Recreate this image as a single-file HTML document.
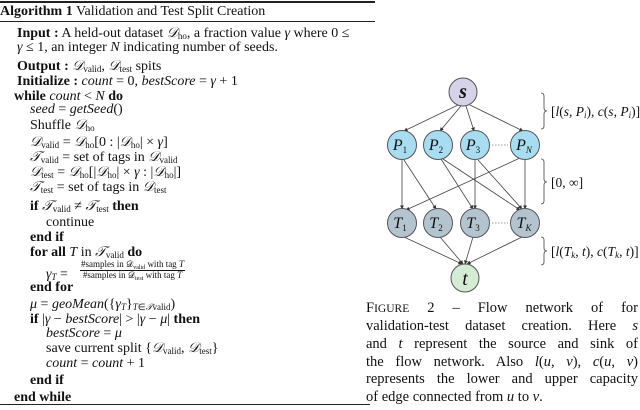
<!DOCTYPE html>
<html><head><meta charset="utf-8"><style>
body{margin:0;width:640px;height:410px;background:#fff;position:relative;overflow:hidden;font-family:"Liberation Serif",serif;font-size:14px;color:#111}
.l{position:absolute;white-space:nowrap;line-height:14px}
b{font-weight:bold}
i{font-style:italic}
sub{font-size:9px;vertical-align:-2px;line-height:0}
.hr{position:absolute;left:0;background:#222}
.c{position:absolute;left:366px;width:272px;font-size:14.5px;line-height:16px;white-space:nowrap;text-align:justify;text-align-last:justify}
</style></head><body>
<div class="hr" style="top:1px;width:375px;height:1.5px"></div>
<div class="l" style="left:0;top:5px;font-size:14px"><b>Algorithm 1</b> Validation and Test Split Creation</div>
<div class="hr" style="top:21px;width:375px;height:1px"></div>
<div class="l" style="left:17px;top:27px"><b>Input :</b> A held-out dataset <i>𝒟</i><sub>ho</sub>, a fraction value <i>γ</i> where 0 ≤</div>
<div class="l" style="left:17px;top:41px"><i>γ</i> ≤ 1, an integer <i>N</i> indicating number of seeds.</div>
<div class="l" style="left:17px;top:60px"><b>Output :</b> <i>𝒟</i><sub>valid</sub>, <i>𝒟</i><sub>test</sub> spits</div>
<div class="l" style="left:17px;top:75px"><b>Initialize :</b> <i>count</i> = 0, <i>bestScore</i> = <i>γ</i> + 1</div>
<div class="l" style="left:14px;top:90px"><b>while</b> <i>count</i> &lt; <i>N</i> <b>do</b></div>
<div class="l" style="left:30px;top:103px"><i>seed</i> = <i>getSeed</i>()</div>
<div class="l" style="left:30px;top:119px">Shuffle <i>𝒟</i><sub>ho</sub></div>
<div class="l" style="left:30px;top:136px"><i>𝒟</i><sub>valid</sub> = <i>𝒟</i><sub>ho</sub>[0 : |<i>𝒟</i><sub>ho</sub>| × <i>γ</i>]</div>
<div class="l" style="left:30px;top:151px"><i>𝒯</i><sub>valid</sub> = set of tags in <i>𝒟</i><sub>valid</sub></div>
<div class="l" style="left:30px;top:166px"><i>𝒟</i><sub>test</sub> = <i>𝒟</i><sub>ho</sub>[|<i>𝒟</i><sub>ho</sub>| × <i>γ</i> : |<i>𝒟</i><sub>ho</sub>|]</div>
<div class="l" style="left:30px;top:181px"><i>𝒯</i><sub>test</sub> = set of tags in <i>𝒟</i><sub>test</sub></div>
<div class="l" style="left:30px;top:200px"><b>if</b> <i>𝒯</i><sub>valid</sub> ≠ <i>𝒯</i><sub>test</sub> <b>then</b></div>
<div class="l" style="left:46px;top:216px">continue</div>
<div class="l" style="left:30px;top:231px"><b>end if</b></div>
<div class="l" style="left:30px;top:246px"><b>for all</b> <i>T</i> in <i>𝒯</i><sub>valid</sub> <b>do</b></div>
<div class="l" style="left:46px;top:268px"><i>γ<sub>T</sub></i> =</div>
<div class="l" style="left:80px;top:260px;font-size:9px;line-height:9.5px;text-align:center"><span style="display:block;border-bottom:0.8px solid #111;padding:0 1px">#samples in 𝒟<sub style="font-size:6px">valid</sub> with tag <i>T</i></span><span style="display:block">#samples in 𝒟<sub style="font-size:6px">test</sub> with tag <i>T</i></span></div>
<div class="l" style="left:30px;top:281px"><b>end for</b></div>
<div class="l" style="left:30px;top:298px"><i>μ</i> = <i>geoMean</i>({<i>γ<sub>T</sub></i>}<sub><i>T</i>∈<i>𝒯</i>valid</sub>)</div>
<div class="l" style="left:30px;top:313px"><b>if</b> |<i>γ</i> − <i>bestScore</i>| &gt; |<i>γ</i> − <i>μ</i>| <b>then</b></div>
<div class="l" style="left:46px;top:327px"><i>bestScore</i> = <i>μ</i></div>
<div class="l" style="left:46px;top:342px">save current split {<i>𝒟</i><sub>valid</sub>, <i>𝒟</i><sub>test</sub>}</div>
<div class="l" style="left:46px;top:357px"><i>count</i> = <i>count</i> + 1</div>
<div class="l" style="left:30px;top:374px"><b>end if</b></div>
<div class="l" style="left:14px;top:391px"><b>end while</b></div>
<div class="hr" style="top:404px;width:370px;height:1px"></div>

<svg width="640" height="410" style="position:absolute;left:0;top:0" font-family="Liberation Serif,serif" font-style="italic">
<defs><marker id="a" markerWidth="5" markerHeight="5" refX="4.5" refY="2.5" orient="auto"><path d="M0,0L5,2.5L0,5z" fill="#333"/></marker></defs>
<g stroke="#444" stroke-width="0.8" fill="none" marker-end="url(#a)">
<line x1="458" y1="105" x2="404" y2="131"/>
<line x1="461" y1="106" x2="440" y2="131"/>
<line x1="466" y1="106" x2="474" y2="131"/>
<line x1="470" y1="105" x2="523" y2="131"/>
<line x1="402" y1="160" x2="402" y2="209"/>
<line x1="404" y1="160" x2="436" y2="209"/>
<line x1="441" y1="159" x2="473" y2="209"/>
<line x1="443" y1="159" x2="520" y2="210"/>
<line x1="475" y1="160" x2="475" y2="209"/>
<line x1="478" y1="160" x2="522" y2="209"/>
<line x1="520" y1="158" x2="406" y2="210"/>
<line x1="525" y1="160" x2="525" y2="209"/>
<line x1="404" y1="237" x2="462" y2="264"/>
<line x1="440" y1="237" x2="463" y2="264"/>
<line x1="473" y1="237" x2="465" y2="264"/>
<line x1="522" y1="237" x2="467" y2="264"/>
</g>
<g stroke="#777" stroke-width="0.7" stroke-dasharray="1.5,1.5">
<line x1="492" y1="145" x2="508" y2="145"/><line x1="492" y1="223" x2="508" y2="223"/>
</g>
<g stroke="#555" stroke-width="1">
<circle cx="463" cy="92" r="14" fill="#d6d2e8"/>
<circle cx="402" cy="145" r="14.5" fill="#a8dcf0"/>
<circle cx="438" cy="145" r="14.5" fill="#a8dcf0"/>
<circle cx="475" cy="145" r="14.5" fill="#a8dcf0"/>
<circle cx="525" cy="145" r="14.5" fill="#a8dcf0"/>
<circle cx="402" cy="223" r="14.5" fill="#b4c4cf"/>
<circle cx="438" cy="223" r="14.5" fill="#b4c4cf"/>
<circle cx="475" cy="223" r="14.5" fill="#b4c4cf"/>
<circle cx="525" cy="223" r="14.5" fill="#b4c4cf"/>
<circle cx="465" cy="278" r="14" fill="#d4ecd4"/>
</g>
<g fill="#111" font-size="16" text-anchor="middle">
<text x="463" y="98" font-size="20" font-weight="bold">s</text>
<text x="465" y="285" font-size="20">t</text>
<text x="400" y="150">P<tspan font-size="9" dy="3" font-style="normal">1</tspan></text>
<text x="436" y="150">P<tspan font-size="9" dy="3" font-style="normal">2</tspan></text>
<text x="473" y="150">P<tspan font-size="9" dy="3" font-style="normal">3</tspan></text>
<text x="524" y="150">P<tspan font-size="9" dy="3">N</tspan></text>
<text x="400" y="228">T<tspan font-size="9" dy="3" font-style="normal">1</tspan></text>
<text x="436" y="228">T<tspan font-size="9" dy="3" font-style="normal">2</tspan></text>
<text x="473" y="228">T<tspan font-size="9" dy="3" font-style="normal">3</tspan></text>
<text x="524" y="228">T<tspan font-size="9" dy="3">K</tspan></text>
</g>
<g stroke="#444" stroke-width="0.8" fill="none">
<path d="M541,93 q3,0 3,3 v12 q0,3 3,3 q-3,0 -3,3 v12 q0,3 -3,3"/>
<path d="M541,159 q3,0 3,3 v17 q0,3 3,3 q-3,0 -3,3 v16 q0,3 -3,3"/>
<path d="M541,237 q3,0 3,3 v8 q0,3 3,3 q-3,0 -3,3 v8 q0,3 -3,3"/>
</g>
<g fill="#111" font-size="13.5" font-style="normal">
<text x="551" y="116">[<tspan font-style="italic">l</tspan>(<tspan font-style="italic">s</tspan>, <tspan font-style="italic">P<tspan font-size="9" dy="2">i</tspan></tspan><tspan dy="-2">), </tspan><tspan font-style="italic">c</tspan>(<tspan font-style="italic">s</tspan>, <tspan font-style="italic">P<tspan font-size="9" dy="2">i</tspan></tspan><tspan dy="-2">)]</tspan></text>
<text x="551" y="187">[0, ∞]</text>
<text x="551" y="256">[<tspan font-style="italic">l</tspan>(<tspan font-style="italic">T<tspan font-size="9" dy="2">k</tspan></tspan><tspan dy="-2">, </tspan><tspan font-style="italic">t</tspan>), <tspan font-style="italic">c</tspan>(<tspan font-style="italic">T<tspan font-size="9" dy="2">k</tspan></tspan><tspan dy="-2">, </tspan><tspan font-style="italic">t</tspan>)]</text>
</g>
</svg>

<div class="c" style="top:300px">F<span style="font-size:11.5px">IGURE</span> 2 – Flow network of for</div>
<div class="c" style="top:318px">validation-test dataset creation. Here <i>s</i></div>
<div class="c" style="top:336px">and <i>t</i> represent the source and sink of</div>
<div class="c" style="top:354px">the flow network. Also <i>l</i>(<i>u</i>, <i>v</i>), <i>c</i>(<i>u</i>, <i>v</i>)</div>
<div class="c" style="top:371px">represents the lower and upper capacity</div>
<div class="c" style="top:389px;text-align-last:left">of edge connected from <i>u</i> to <i>v</i>.</div>
</body></html>
